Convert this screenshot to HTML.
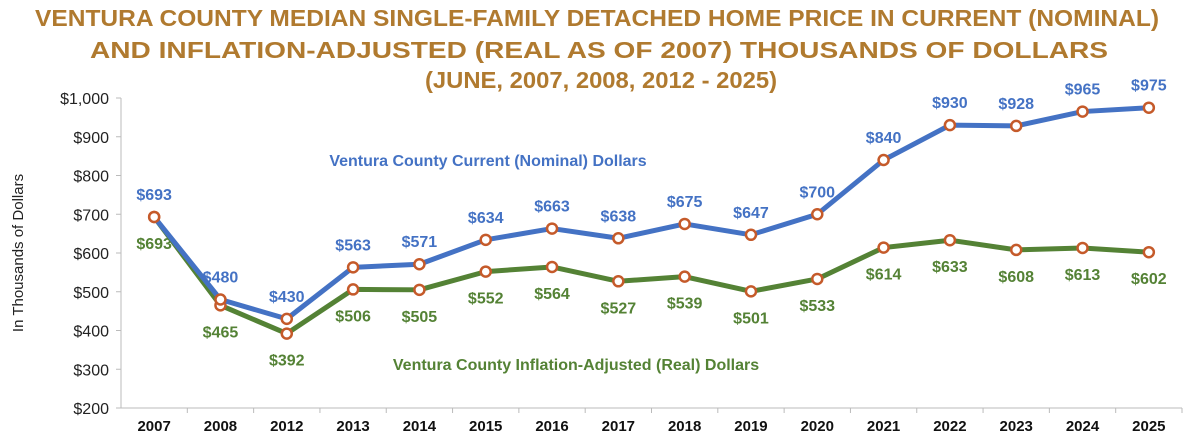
<!DOCTYPE html>
<html><head><meta charset="utf-8"><style>
html,body{margin:0;padding:0;background:#fff;width:1200px;height:437px;overflow:hidden}
svg{display:block}
</style></head><body>
<svg id="chart" width="1200" height="437" xmlns="http://www.w3.org/2000/svg" font-family="Liberation Sans, sans-serif">
<g fill="#B07A2F" font-weight="bold" font-size="23" text-anchor="middle">
<text x="597" y="26" textLength="1124" lengthAdjust="spacingAndGlyphs">VENTURA COUNTY MEDIAN SINGLE-FAMILY DETACHED HOME PRICE IN CURRENT (NOMINAL)</text>
<text x="599" y="58" textLength="1018" lengthAdjust="spacingAndGlyphs">AND INFLATION-ADJUSTED (REAL AS OF 2007) THOUSANDS OF DOLLARS</text>
<text x="601" y="88" textLength="352" lengthAdjust="spacingAndGlyphs">(JUNE, 2007, 2008, 2012 - 2025)</text>
</g>
<text transform="translate(23,253) rotate(-90)" text-anchor="middle" font-size="15" fill="#222">In Thousands of Dollars</text>
<g id="axes"></g>
<g id="marks"></g>
<text x="488" y="166" text-anchor="middle" font-size="16" font-weight="bold" fill="#4472C4">Ventura County Current (Nominal) Dollars</text>
<text x="576" y="370" text-anchor="middle" font-size="16" font-weight="bold" fill="#548235">Ventura County Inflation-Adjusted (Real) Dollars</text>
</svg>
<script>
const categories=["2007","2008","2012","2013","2014","2015","2016","2017","2018","2019","2020","2021","2022","2023","2024","2025"];
const nominal=[693,480,430,563,571,634,663,638,675,647,700,840,930,928,965,975];
const real=[693,465,392,506,505,552,564,527,539,501,533,614,633,608,613,602];
const yTicks=[200,300,400,500,600,700,800,900,1000];
const yTickLabels=["$200","$300","$400","$500","$600","$700","$800","$900","$1,000"];
const NS="http://www.w3.org/2000/svg";
const L=121,W=1061,T=98,B=408;
function x(i){return L+W/categories.length*(i+0.5);}
function y(v){return B-(v-200)/800*(B-T);}
function mk(tag,attrs,parent,txt){const e=document.createElementNS(NS,tag);for(const k in attrs)e.setAttribute(k,attrs[k]);if(txt!==undefined)e.textContent=txt;parent.appendChild(e);return e;}
const ax=document.getElementById('axes'),mg=document.getElementById('marks');
const yl=mk('line',{x1:L,y1:T,x2:L,y2:B,stroke:'#bbb'},ax);


const xl=mk('line',{x1:L,y1:B,x2:L+W,y2:B,stroke:'#bbb'},ax);


yTicks.forEach((v,i)=>{
 mk('line',{x1:L-5,y1:y(v),x2:L,y2:y(v),stroke:'#bbb'},ax);
 const t=mk('text',{x:L-12,y:y(v)+6,'text-anchor':'end','font-size':16,fill:'#222'},ax,yTickLabels[i]);
 
 
});
categories.forEach((c,i)=>{
 const tx=L+W/categories.length*(i+1);
 mk('line',{x1:tx,y1:B,x2:tx,y2:B+5,stroke:'#bbb'},ax);
 const t=mk('text',{x:x(i),y:B+23,'text-anchor':'middle','font-size':15,'font-weight':'bold',fill:'#111'},ax,c);
 
 
});
function series(vals,color,name,dy){
 const p=mk('polyline',{points:vals.map((v,i)=>x(i)+','+y(v)).join(' '),fill:'none',stroke:color,'stroke-width':5,'stroke-linejoin':'round'},mg);
 
 
 vals.forEach((v,i)=>{
  const c=mk('circle',{cx:x(i),cy:y(v),r:5,fill:'#fff',stroke:'#C55A2A','stroke-width':2.5},mg);
  
  
  const t=mk('text',{x:x(i),y:y(v)+dy,'text-anchor':'middle','font-size':16,'font-weight':'bold',fill:color},mg,'$'+v);
  
  
 });
}
series(real,'#548235','real',32);
series(nominal,'#4472C4','nominal',-17);
</script>
</body></html>
